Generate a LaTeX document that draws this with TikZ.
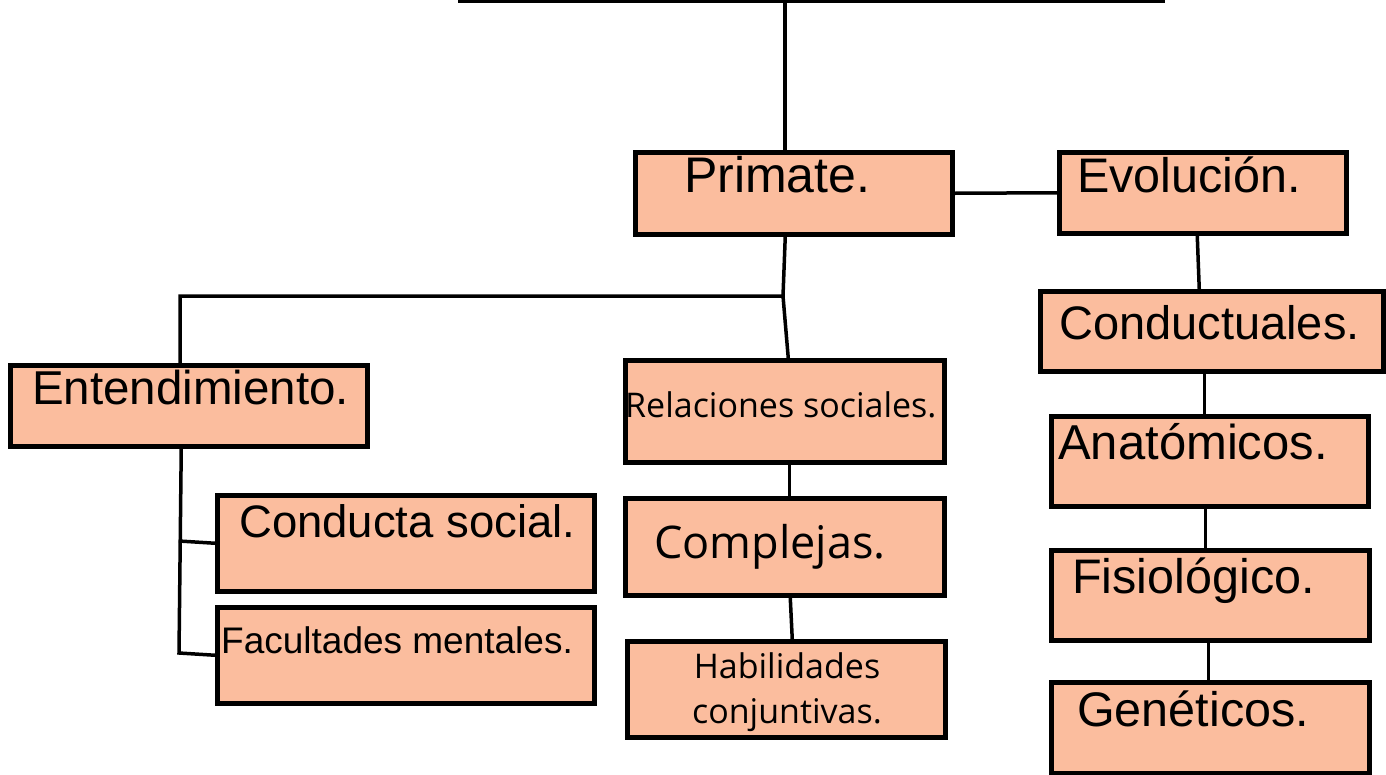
\documentclass[tikz,border=0pt]{standalone}
\usepackage{fontspec}
\setmainfont{Liberation Sans}
\newfontfamily\opensans{Open Sans}
\usetikzlibrary{backgrounds}
\definecolor{peach}{RGB}{251,189,158}
\tikzset{
  box/.style={draw=black, fill=peach, line width=4.5pt, rectangle, inner sep=0pt, anchor=north west},
  conn/.style={draw=black, line width=3.5pt},
  lbl/.style={anchor=base west, inner sep=0pt, text=black},
}
\newcommand{\fs}[1]{\fontsize{#1}{#1}\selectfont}
\begin{document}
\begin{tikzpicture}[x=1pt,y=-1pt]
\useasboundingbox (0,0) rectangle (1386,774);
% boxes
\node[box, minimum width=317pt, minimum height=82pt] (primate) at (633,150) {};
\node[box, minimum width=287pt, minimum height=81pt] (evol) at (1057,150) {};
\node[box, minimum width=343pt, minimum height=80pt] (cond) at (1038,289) {};
\node[box, minimum width=357pt, minimum height=81pt] (ent) at (8,363) {};
\node[box, minimum width=319pt, minimum height=102pt] (rel) at (623,358) {};
\node[box, minimum width=319pt, minimum height=97pt] (comp) at (623,496) {};
\node[box, minimum width=318pt, minimum height=96pt] (hab) at (625,639) {};
\node[box, minimum width=377pt, minimum height=96pt] (cs) at (215,493) {};
\node[box, minimum width=377pt, minimum height=96pt] (fac) at (215,605) {};
\node[box, minimum width=317pt, minimum height=90pt] (anat) at (1049,414) {};
\node[box, minimum width=318pt, minimum height=90pt] (fisio) at (1049,548) {};
\node[box, minimum width=318pt, minimum height=91pt] (gene) at (1049,680) {};
% labels
\node[lbl] (tprimate) at (684,192) {\fs{50}Primate.};
\node[lbl] (tevol) at (1077,192) {\fs{48.5}Evolución.};
\node[lbl] (tcond) at (1059,339) {\fs{47}Conductuales.};
\node[lbl] (tent) at (32,404) {\fs{47.5}Entendimiento.};
\node[lbl] (trel) at (625,417) {\opensans\fs{34}Relaciones sociales.};
\node[lbl] (tcomp) at (654,558) {\opensans\fs{45}Complejas.};
\node[anchor=base, inner sep=0pt, align=center, font={\opensans\fontsize{34}{45}\selectfont}] (thab) at (787,723) {Habilidades\\conjuntivas.};
\node[lbl] (tcs) at (239,537) {\fs{45.5}Conducta social.};
\node[lbl] (tfac) at (221,653) {\fs{37}Facultades mentales.};
\node[lbl] (tanat) at (1058,459) {\fs{49}Anatómicos.};
\node[lbl] (tfisio) at (1072,593) {\fs{48.5}Fisiológico.};
\node[lbl] (tgene) at (1077,726) {\fs{48.5}Genéticos.};
% connectors
\coordinate (tl) at (458,1.5);
\coordinate (tr) at (1165,1.5);
\coordinate (t1) at (785,0);
\coordinate (j1) at (783,296);
\coordinate (j2) at (180,296);
\coordinate (e1) at (179,653);
\coordinate (e2) at (179,541);
\begin{scope}[on background layer]
\draw[conn] (tl) -- (tr);
\draw[conn] (t1) -- (t1 |- primate.north);
\draw[conn] (primate.east) -- (evol.west);
\draw[conn] ([xshift=-5.5pt]evol.south) -- ([xshift=-12.5pt]cond.north);
\draw[conn] ([xshift=-7.5pt]cond.south) -- ([xshift=-5.5pt]anat.north);
\draw[conn] ([xshift=-4.5pt]anat.south) -- ([xshift=-5pt]fisio.north);
\draw[conn] ([xshift=-2pt]fisio.south) -- ([xshift=-2pt]gene.north);
\draw[conn] ([xshift=-8.5pt]primate.south) -- (j1) -- (j2) -- (j2 |- ent.north);
\draw[conn] (j1) -- ([xshift=3.5pt]rel.north);
\draw[conn] ([xshift=4.5pt]rel.south) -- ([xshift=4.5pt]comp.north);
\draw[conn] ([xshift=5.5pt]comp.south) -- ([xshift=6pt]hab.north);
\draw[conn] ([xshift=-7.5pt]ent.south) -- (e1) -- (fac.west);
\draw[conn] (e2) -- (cs.west);
\end{scope}
\end{tikzpicture}
\end{document}
